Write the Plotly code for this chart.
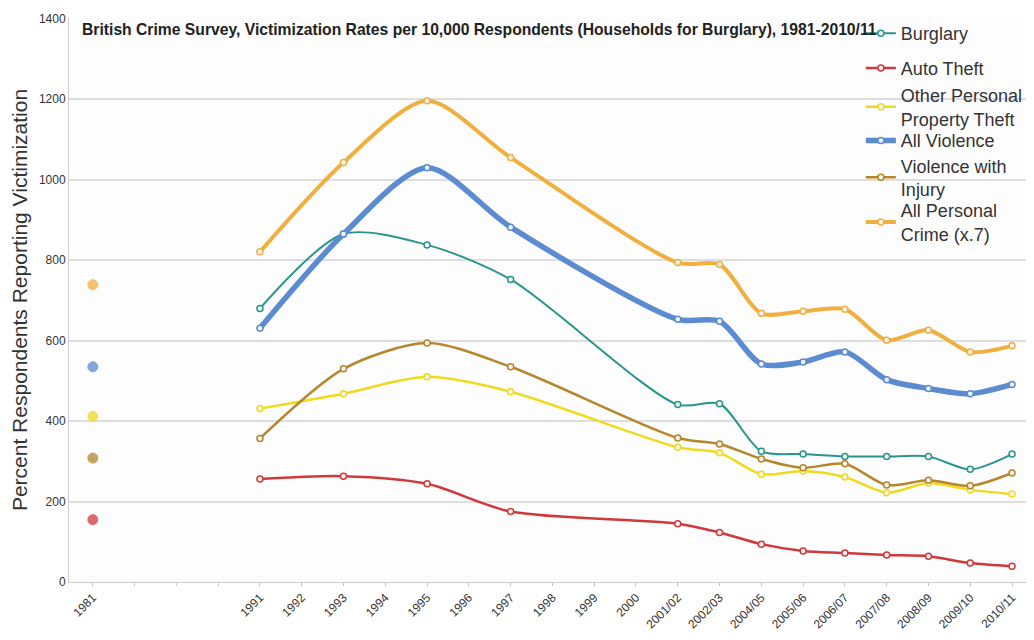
import plotly.graph_objects as go

# ---- data ----
axis_labels = ["1981", "", "", "", "1991", "1992", "1993", "1994", "1995", "1996", "1997",
               "1998", "1999", "2000", "2001/02", "2002/03", "2004/05", "2005/06",
               "2006/07", "2007/08", "2008/09", "2009/10", "2010/11"]
survey_years = ["1981", "1991", "1993", "1995", "1997", "2001/02", "2002/03", "2004/05",
                "2005/06", "2006/07", "2007/08", "2008/09", "2009/10", "2010/11"]

burglary = [None, 680, 865, 838, 752, 441, 443, 325, 318, 312, 312, 312, 280, 318]
auto_theft = [155, 256, 263, 244, 175, 145, 123, 94, 77, 72, 67, 64, 47, 39]
other_property = [412, 431, 468, 510, 473, 335, 321, 268, 276, 261, 222, 246, 229, 219]
all_violence = [535, 631, 865, 1030, 882, 653, 648, 542, 547, 572, 503, 481, 468, 491]
violence_injury = [308, 357, 530, 594, 535, 358, 343, 306, 284, 294, 241, 253, 239, 271]
all_personal = [739, 821, 1043, 1196, 1055, 794, 789, 668, 673, 678, 601, 626, 572, 587]

series_names = ["Burglary", "Auto Theft", "Other Personal<br>Property Theft",
                "All Violence", "Violence with<br>Injury", "All Personal<br>Crime (x.7)"]
series_values = [burglary, auto_theft, other_property, all_violence, violence_injury, all_personal]
series_colors = ["#2A958C", "#D0393B", "#EEDB1E", "#5B8BD0", "#B5862C", "#EFB040"]
series_widths = [2, 2.5, 2.5, 5.5, 2.5, 4]
legend_y = [0.9725, 0.911, 0.8423, 0.7824, 0.7173, 0.638]

FONT = "Arial, Liberation Sans, sans-serif"

fig = go.Figure()
legend_layouts = {}

for k, (name, vals, color, width) in enumerate(zip(series_names, series_values,
                                                   series_colors, series_widths)):
    lg = "legend" if k == 0 else f"legend{k + 1}"
    xs, ys = [], []
    for yr, v in zip(survey_years[1:], vals[1:]):
        if v is not None:
            xs.append(axis_labels.index(yr))
            ys.append(v)
    fig.add_trace(go.Scatter(
        x=xs, y=ys, name=name, mode="lines+markers",
        line=dict(color=color, width=width, shape="spline", smoothing=0.8),
        marker=dict(size=6, color="#f4f4f4", line=dict(color=color, width=1.5)),
        legend=lg, showlegend=True,
    ))
    if vals[0] is not None:
        fig.add_trace(go.Scatter(
            x=[axis_labels.index(survey_years[0])], y=[vals[0]], mode="markers",
            marker=dict(size=10, color=color, opacity=0.75,
                        line=dict(color=color, width=1)),
            showlegend=False,
        ))
    legend_layouts[lg] = dict(
        x=0.824, y=legend_y[k], xanchor="left", yanchor="middle",
        bgcolor="rgba(0,0,0,0)", font=dict(size=18, color="#333", family=FONT),
        itemwidth=30,
    )

tickvals = [i for i, lab in enumerate(axis_labels) if lab]
ticktext = [lab for lab in axis_labels if lab]

fig.update_layout(
    width=1026, height=632,
    margin=dict(l=60, r=4, t=6, b=58),
    paper_bgcolor="white", plot_bgcolor="#fdfdfd",
    font=dict(family=FONT, color="#333"),
    showlegend=True,
    xaxis=dict(
        range=[-0.57, 22.43], tickvals=tickvals, ticktext=ticktext,
        tickangle=-45, tickfont=dict(size=12, color="#333"),
        showgrid=False, zeroline=False,
        showline=True, linecolor="#ccc", linewidth=1,
        ticks="outside", ticklen=3, tickcolor="#bbb",
        minor=dict(dtick=1, tick0=0, ticks="outside", ticklen=3, tickcolor="#ccc"),
    ),
    yaxis=dict(
        range=[0, 1402], tickvals=[0, 200, 400, 600, 800, 1000, 1200, 1400],
        tickfont=dict(size=12, color="#333"),
        showgrid=True, gridcolor="#dedede", gridwidth=2,
        zeroline=False, showline=True, linecolor="#ccc", linewidth=1,
        title=dict(text="Percent Respondents Reporting Victimization",
                   font=dict(size=21, color="#333"), standoff=12),
    ),
    annotations=[dict(
        text="<b>British Crime Survey, Victimization Rates per 10,000 Respondents (Households for Burglary), 1981-2010/11</b>",
        xref="paper", yref="paper", x=0.0115, y=0.998, xanchor="left", yanchor="top",
        showarrow=False, font=dict(size=15.7, color="#222", family=FONT),
    )],
    **legend_layouts,
)

fig.write_html("out.html")
